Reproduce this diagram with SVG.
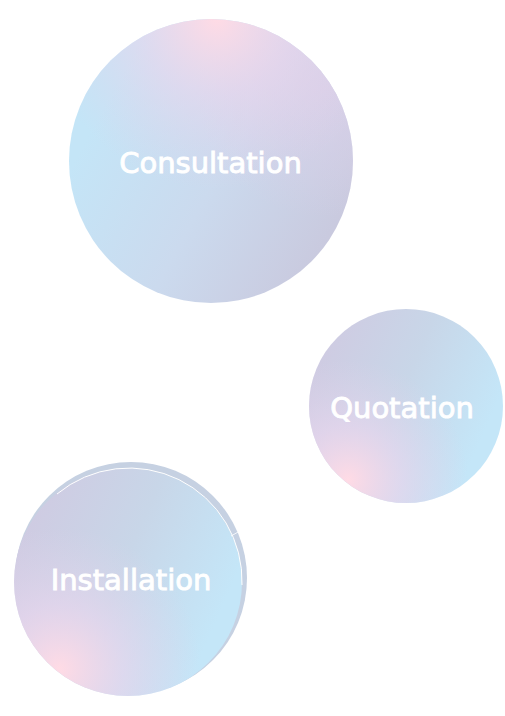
<svg xmlns="http://www.w3.org/2000/svg" width="505" height="716" viewBox="0 0 505 716">
<defs>
<linearGradient id="baseA" x1="0.1" y1="0.35" x2="0.92" y2="0.8">
<stop offset="0" stop-color="#c4e5f7"/>
<stop offset="0.5" stop-color="#cbdaee"/>
<stop offset="1" stop-color="#c9c9de"/>
</linearGradient>
<radialGradient id="pinkA" cx="0.52" cy="0.0" r="0.6">
<stop offset="0" stop-color="#ffdbe5" stop-opacity="1"/>
<stop offset="0.45" stop-color="#ecd5ec" stop-opacity="0.6"/>
<stop offset="1" stop-color="#e0d2ea" stop-opacity="0"/>
</radialGradient>
<radialGradient id="purpA" cx="0.9" cy="0.25" r="0.45">
<stop offset="0" stop-color="#dccfe8" stop-opacity="0.8"/>
<stop offset="1" stop-color="#dccfe8" stop-opacity="0"/>
</radialGradient>
<linearGradient id="baseB" x1="0.92" y1="0.6" x2="0.05" y2="0.22">
<stop offset="0" stop-color="#c4e6f8"/>
<stop offset="0.5" stop-color="#c8d6e8"/>
<stop offset="1" stop-color="#cfcbe2"/>
</linearGradient>
<radialGradient id="pinkB" cx="0.2" cy="0.88" r="0.62">
<stop offset="0" stop-color="#ffdbe5" stop-opacity="1"/>
<stop offset="0.45" stop-color="#ecd6ee" stop-opacity="0.6"/>
<stop offset="1" stop-color="#e0d2ea" stop-opacity="0"/>
</radialGradient>
<style>
.lbl{font-family:"DejaVu Sans",sans-serif;font-size:29px;fill:#ffffff;stroke:#ffffff;stroke-width:0.9;text-anchor:middle}
</style>
</defs>
<g id="consultation">
<circle cx="211" cy="161" r="142" fill="url(#baseA)"/>
<circle cx="211" cy="161" r="142" fill="url(#purpA)"/>
<circle cx="211" cy="161" r="142" fill="url(#pinkA)"/>
<text class="lbl" x="210.5" y="173">Consultation</text>
</g>
<g id="quotation">
<circle cx="406" cy="406" r="97" fill="url(#baseB)"/>
<circle cx="406" cy="406" r="97" fill="url(#pinkB)"/>
<text class="lbl" x="402" y="418">Quotation</text>
</g>
<g id="installation">
<circle cx="131" cy="578" r="116" fill="#c6d1e2"/>
<circle cx="128" cy="582" r="114" fill="url(#baseB)"/>
<circle cx="128" cy="582" r="114" fill="url(#pinkB)"/>
<path d="M 57 494 A 113 113 0 0 1 242 585" fill="none" stroke="#ffffff" stroke-width="1"/>
<line x1="231" y1="536" x2="240" y2="531" stroke="#ffffff" stroke-width="0.8"/>
<text class="lbl" x="131" y="590">Installation</text>
</g>
<g id="connectors"/>
</svg>
